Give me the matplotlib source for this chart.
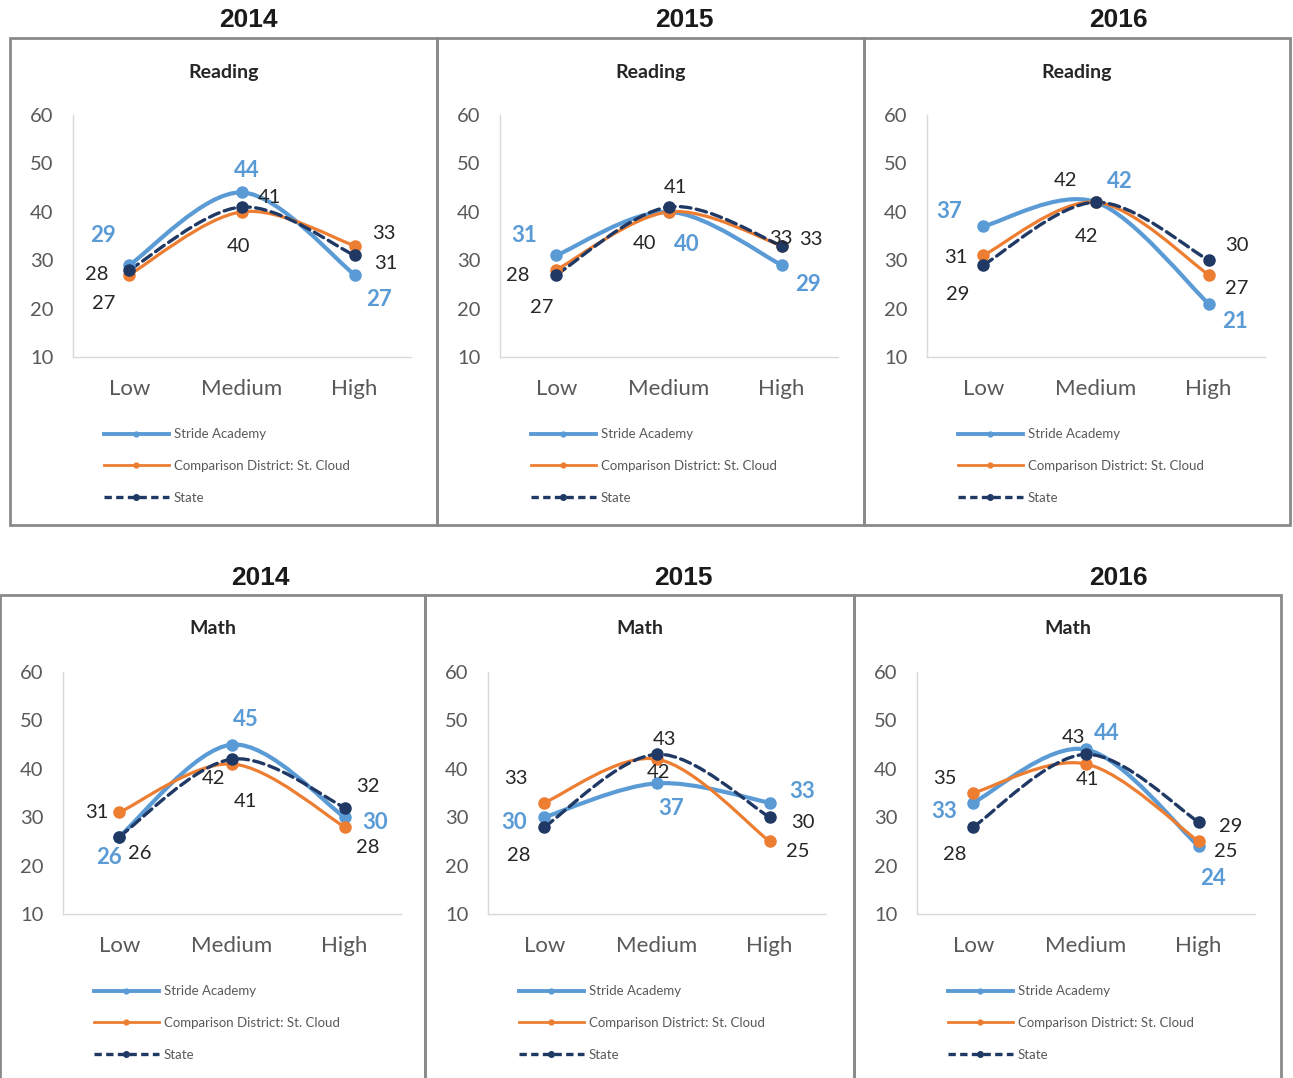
import matplotlib
matplotlib.use("Agg")
import matplotlib.pyplot as plt
from matplotlib.path import Path
from matplotlib.patches import PathPatch, Rectangle
from matplotlib.lines import Line2D

# ---- data -------------------------------------------------------------
categories = ["Low", "Medium", "High"]
years = ["2014", "2015", "2016"]
subjects = ["Reading", "Math"]
series_names = ["Stride Academy", "Comparison District: St. Cloud", "State"]

reading_stride = [[29, 44, 27], [31, 40, 29], [37, 42, 21]]
reading_district = [[27, 40, 33], [28, 40, 33], [31, 42, 27]]
reading_state = [[28, 41, 31], [27, 41, 33], [29, 42, 30]]

math_stride = [[26, 45, 30], [30, 37, 33], [33, 44, 24]]
math_district = [[31, 41, 28], [33, 42, 25], [35, 41, 25]]
math_state = [[26, 42, 32], [28, 43, 30], [28, 43, 29]]

y_ticks = [10, 20, 30, 40, 50, 60]

# ---- data-label placement (pixel offsets from each point) --------------
reading_offsets = [
    {"stride": [(-26, 30), (5, 22), (24, -25)],
     "district": [(-26, -29), (-3, -35), (29, 12)],
     "state": [(-33, -5), (27, 9), (31, -8)]},
    {"stride": [(-32, 20), (18, -33), (26, -19)],
     "district": [(-39, -6), (-24, -32), (29, 6)],
     "state": [(-15, -33), (6, 19), (-1, 7)]},
    {"stride": [(-34, 15), (24, 21), (26, -18)],
     "district": [(-28, -2), (-30, 22), (28, -14)],
     "state": [(-26, -29), (-9, -34), (28, 15)]},
]
math_offsets = [
    {"stride": [(-10, -21), (14, 25), (30, -5)],
     "district": [(-23, 0), (13, -38), (23, -21)],
     "state": [(20, -17), (-18, -19), (23, 21)]},
    {"stride": [(-30, -5), (14, -25), (32, 11)],
     "district": [(-28, 24), (2, -13), (28, -10)],
     "state": [(-26, -29), (8, 15), (33, -5)]},
    {"stride": [(-29, -9), (21, 16), (14, -32)],
     "district": [(-28, 15), (1, -16), (27, -10)],
     "state": [(-19, -28), (-12, 17), (32, -4)]},
]

# ---- styling ----------------------------------------------------------
W, H = 1293, 1078
BLUE = "#5B9BD5"
ORANGE = "#ED7D31"
NAVY = "#1F3864"
GREY_TXT = "#595959"
LABEL_TXT = "#262626"
BODY_FONT = ["Lato", "DejaVu Sans"]
TITLE_FONT = ["Liberation Sans", "DejaVu Sans"]

styles = {
    "stride": dict(color=BLUE, lw=3.0, ls="-", ms=8),
    "district": dict(color=ORANGE, lw=2.3, ls="-", ms=8),
    "state": dict(color=NAVY, lw=2.4, ls=(0, (3.2, 1.6)), ms=8),
}

fig = plt.figure(figsize=(W / 100, H / 100), dpi=100)
fig.patch.set_facecolor("white")


def fx(px):
    return px / W


def fy(py):
    return 1 - py / H


def smooth_path(xs, ys):
    """Cubic Bezier path through the points (Catmull-Rom style smoothing)."""
    pts = list(zip(xs, ys))
    n = len(pts)
    verts = [pts[0]]
    codes = [Path.MOVETO]
    for i in range(n - 1):
        p0 = pts[max(i - 1, 0)]
        p1 = pts[i]
        p2 = pts[i + 1]
        p3 = pts[min(i + 2, n - 1)]
        c1 = (p1[0] + (p2[0] - p0[0]) / 6, p1[1] + (p2[1] - p0[1]) / 6)
        c2 = (p2[0] - (p3[0] - p1[0]) / 6, p2[1] - (p3[1] - p1[1]) / 6)
        verts += [c1, c2, p2]
        codes += [Path.CURVE4] * 3
    return Path(verts, codes)


# panel frames: (left, top, right, bottom) in pixels
row_boxes = [
    [(10, 38, 437, 525), (437, 38, 864, 525), (864, 38, 1290, 525)],
    [(0, 595, 425, 1090), (425, 595, 854, 1090), (854, 595, 1281, 1090)],
]
year_title_pos = [
    [(248, 20), (684, 20), (1118, 20)],
    [(260, 578), (683, 578), (1118, 578)],
]

rows = [
    (subjects[0], reading_stride, reading_district, reading_state, reading_offsets),
    (subjects[1], math_stride, math_district, math_state, math_offsets),
]

for r, (subject, s_vals, d_vals, st_vals, offs) in enumerate(rows):
    for c in range(3):
        left, top, right, bottom = row_boxes[r][c]

        # frame around the panel
        fig.patches.append(Rectangle((fx(left), fy(bottom)), fx(right - left),
                                     (bottom - top) / H, transform=fig.transFigure,
                                     fill=False, ec="#8a8a8a", lw=2.0, zorder=0))
        # year heading
        tx, ty = year_title_pos[r][c]
        fig.text(fx(tx), fy(ty), years[c], ha="center", va="center",
                 fontsize=19, fontweight="bold", family=TITLE_FONT, color="#1a1a1a")
        # subject heading
        fig.text(fx((left + right) / 2), fy(top + 34), subject, ha="center",
                 va="center", fontsize=14, fontweight="bold", family=BODY_FONT,
                 color="#262626")

        # plot area
        ax_left = left + 63
        ax_top = top + 77
        ax_w, ax_h = 338, 242
        ax = fig.add_axes([fx(ax_left), fy(ax_top + ax_h), ax_w / W, ax_h / H])
        x = list(range(len(categories)))

        series = [("stride", s_vals[c]), ("district", d_vals[c]), ("state", st_vals[c])]
        for key, vals in series:
            st = styles[key]
            patch = PathPatch(smooth_path(x, vals), fill=False, ec=st["color"],
                              lw=st["lw"], ls=st["ls"], capstyle="round",
                              joinstyle="round", zorder=3)
            ax.add_patch(patch)
            ax.plot(x, vals, ls="none", marker="o", ms=st["ms"], color=st["color"],
                    zorder=4)
            for xi, v, (ox, oy) in zip(x, vals, offs[c][key]):
                if key == "stride":
                    ax.annotate(f"{v}", (xi, v), xytext=(ox, oy),
                                textcoords="offset pixels", ha="center", va="center",
                                fontsize=16, fontweight="bold", color=BLUE,
                                family=BODY_FONT, zorder=5)
                else:
                    ax.annotate(f"{v}", (xi, v), xytext=(ox, oy),
                                textcoords="offset pixels", ha="center", va="center",
                                fontsize=14.5, color=LABEL_TXT,
                                family=BODY_FONT, zorder=5)

        ax.set_xlim(-0.5, 2.5)
        ax.set_ylim(10, 60)
        ax.set_xticks(x)
        ax.set_xticklabels(categories)
        ax.set_yticks(y_ticks)
        ax.tick_params(axis="both", length=0, colors=GREY_TXT)
        ax.tick_params(axis="y", pad=14, labelsize=14.5)
        ax.tick_params(axis="x", pad=16, labelsize=16)
        for lab in ax.get_xticklabels() + ax.get_yticklabels():
            lab.set_family(BODY_FONT)
        for side in ("top", "right"):
            ax.spines[side].set_visible(False)
        for side in ("left", "bottom"):
            ax.spines[side].set_color("#d9d9d9")
            ax.spines[side].set_linewidth(1.0)
        ax.patch.set_alpha(0)

        # legend under the plot area
        handles = [
            Line2D([], [], color=BLUE, lw=2.8, marker="o", ms=3.5),
            Line2D([], [], color=ORANGE, lw=2.0, marker="o", ms=3.5),
            Line2D([], [], color=NAVY, lw=2.4, ls=(0, (2.2, 1.3)), marker="o", ms=4),
        ]
        leg = ax.legend(handles, series_names, loc="center left",
                        bbox_to_anchor=(fx(left + 94), fy(top + 428)),
                        bbox_transform=fig.transFigure, frameon=False,
                        handlelength=4.9, handletextpad=0.4,
                        labelspacing=1.5, borderpad=0, borderaxespad=0,
                        prop={"family": BODY_FONT, "size": 9.5})
        for t in leg.get_texts():
            t.set_color(GREY_TXT)

fig.savefig("out.png", dpi=100, facecolor="white")
